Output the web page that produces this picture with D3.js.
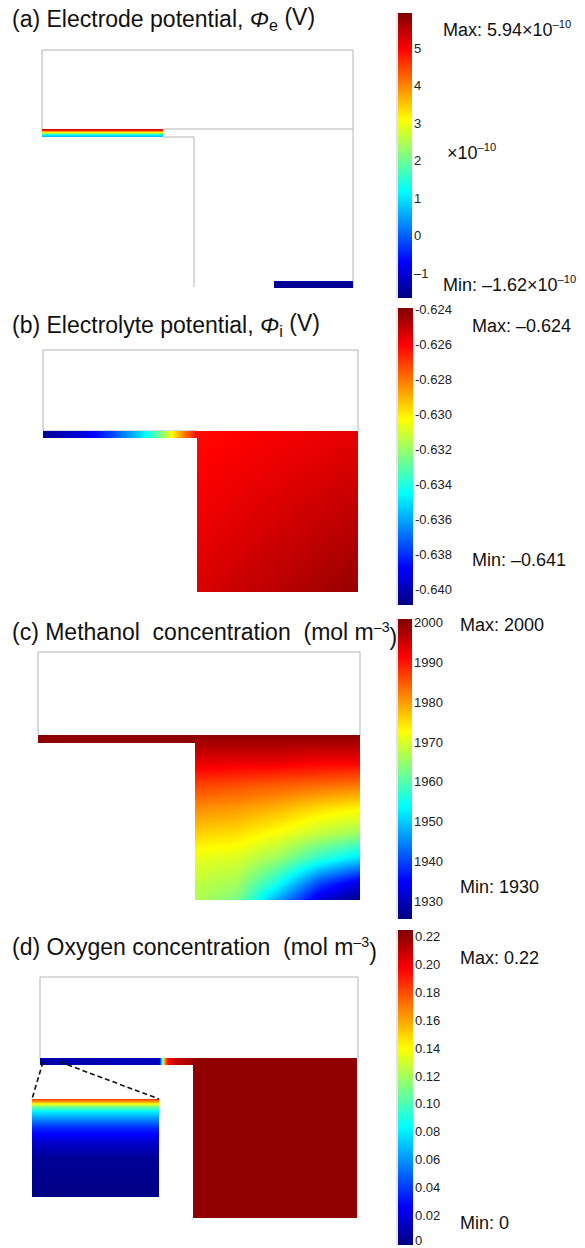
<!DOCTYPE html>
<html>
<head>
<meta charset="utf-8" />
<style>
  html, body {
     margin: 0;
     padding: 0;
     background: #fff;
  }
  svg {
    display: block;
    font-family: "Liberation Sans", Arial, sans-serif;
  }
  .title { font-size: 23px; white-space: pre; fill: #111; }
  .tick { font-size: 13px; fill: #222; }
  .ext { font-size: 18px; fill: #111; }
  .edge { stroke: #b4b4b4; stroke-width: 1; fill: none; }
  .zoomline { stroke: #111; stroke-width: 1.6; stroke-dasharray: 5,3; fill: none; }
  rect.px { shape-rendering: crispEdges; }
</style>
</head>
<body>
<div id="vis"></div>
<script src="https://cdnjs.cloudflare.com/ajax/libs/d3/7.8.5/d3.min.js"></script>
<script>
(function() {
  // ** DATA **

  // colour bar ticks and the values at the two ends of each bar
  var ticksA = [-1, 0, 1, 2, 3, 4, 5];
  var ticksB = [-0.640, -0.638, -0.636, -0.634, -0.632, -0.630, -0.628, -0.626, -0.624];
  var ticksC = [1930, 1940, 1950, 1960, 1970, 1980, 1990, 2000];
  var ticksD = [0, 0.02, 0.04, 0.06, 0.08, 0.10, 0.12, 0.14, 0.16, 0.18, 0.20, 0.22];
  var rangeA = [-1.667, 5.94];
  var rangeB = [-0.64086, -0.6239];
  var rangeC = [1925.5, 2001];
  var rangeD = [-0.0014, 0.225];

  // max / min annotations
  var maxLabels = ["5.94×10^–10", "–0.624", "2000", "0.22"];
  var minLabels = ["–1.62×10^–10", "–0.641", "1930", "0"];

  // (a) electrode potential (x1e-10 V): catalyst strip, through its depth
  var aStripDepth = [0, 0.2, 0.4, 0.55, 0.7, 0.85, 1];
  var aStripVals = [[5.5], [4.6], [3.4], [2.4], [1.4], [0.9], [0.6]];
  var aPlateVal = -1.5;

  // (b) electrolyte potential (V): along the strip, and block corners
  var bStripX = [0, 0.26, 0.45, 0.63, 0.76, 0.84, 0.91, 1.0];
  var bStripVals = [-0.6405, -0.6393, -0.6376, -0.6352, -0.6326, -0.6302, -0.6282, -0.6262];
  var bBlockX = [0, 1];
  var bBlockY = [0, 1];
  var bBlockVals = [[-0.6262, -0.6256], [-0.6254, -0.6243]];

  // (c) methanol concentration (mol m-3) in the block
  var cStripVal = 2000;
  var cBlockX = [0, 0.25, 0.5, 0.75, 1];
  var cBlockY = [0, 0.15, 0.3, 0.45, 0.6, 0.75, 0.9, 1];
  var cBlockVals = [
    [2000, 2000, 2000, 2000, 2000],
    [1994, 1994, 1994, 1993, 1993],
    [1987, 1986, 1985, 1984, 1983],
    [1981, 1980, 1978, 1975, 1973],
    [1976, 1975, 1972, 1968, 1965],
    [1971, 1970, 1965, 1957, 1951],
    [1968, 1966, 1955, 1940, 1932],
    [1967, 1963, 1947, 1932, 1926]
  ];

  // (d) oxygen concentration (mol m-3)
  var dStripX = [0, 0.78, 0.795, 0.81, 0.83, 0.87, 1];
  var dStripVals = [0.008, 0.012, 0.08, 0.15, 0.19, 0.208, 0.218];
  var dBlockVal = 0.221;
  var dInsetDepth = [0, 0.03, 0.05, 0.08, 0.13, 0.2, 0.3, 0.45, 0.6, 1];
  var dInsetVals = [[0.185], [0.16], [0.14], [0.11], [0.08], [0.06], [0.035], [0.015], [0.004], [0.0]];

  // ** SETUP **
  var W = 585, H = 1248;
  var svg = d3.select("#vis").append("svg").attr("width", W).attr("height", H);

  // jet-like rainbow, as on the colour bars
  var jet = d3.scaleLinear()
    .domain([0, 0.125, 0.375, 0.625, 0.875, 1])
    .range(["#00007f", "#0000ff", "#00ffff", "#ffff00", "#ff0000", "#7f0000"])
    .clamp(true);

  function colorFor(range) {
    var n = d3.scaleLinear().domain(range).range([0, 1]);
    return function(v) { return jet(n(v)); };
  }

  function locate(arr, u) {
    if (arr.length === 1) return {i: 0, j: 0, t: 0};
    var i = Math.max(0, Math.min(arr.length - 2, d3.bisectRight(arr, u) - 1));
    var t = (u - arr[i]) / (arr[i + 1] - arr[i]);
    return {i: i, j: i + 1, t: Math.max(0, Math.min(1, t))};
  }

  function sample(xs, ys, vals, u, v) {
    var c = locate(xs, u), r = locate(ys, v);
    var top = vals[r.i][c.i] + (vals[r.i][c.j] - vals[r.i][c.i]) * c.t;
    var bot = vals[r.j][c.i] + (vals[r.j][c.j] - vals[r.j][c.i]) * c.t;
    return top + (bot - top) * r.t;
  }

  // draws a field over a box, pixel cells of size `step`
  function drawField(g, box, xs, ys, vals, color, step) {
    var cells = [];
    for (var y = box.y0; y < box.y1; y += step) {
      for (var x = box.x0; x < box.x1; x += step) {
        var w = Math.min(step, box.x1 - x), h = Math.min(step, box.y1 - y);
        var u = (x + w / 2 - box.x0) / (box.x1 - box.x0);
        var v = (y + h / 2 - box.y0) / (box.y1 - box.y0);
        cells.push({x: x, y: y, w: w, h: h, v: sample(xs, ys, vals, u, v)});
      }
    }
    g.selectAll(null).data(cells).join("rect")
      .attr("class", "px")
      .attr("x", function(d) { return d.x; }).attr("y", function(d) { return d.y; })
      .attr("width", function(d) { return d.w; }).attr("height", function(d) { return d.h; })
      .attr("fill", function(d) { return color(d.v); });
  }

  function fillBox(g, box, value, color) {
    g.append("rect").attr("class", "px")
      .attr("x", box.x0).attr("y", box.y0)
      .attr("width", box.x1 - box.x0).attr("height", box.y1 - box.y0)
      .attr("fill", color(value));
  }

  // text with "^" meaning superscript
  function richText(sel, str) {
    var parts = str.split("^");
    sel.append("tspan").text(parts[0]);
    if (parts[1]) {
      sel.append("tspan").attr("font-size", "0.62em").attr("dy", "-0.55em").text(parts[1]);
    }
  }

  function colorBar(range, ticks, fmt, bar) {
    var color = colorFor(range);
    var y = d3.scaleLinear().domain(range).range([bar.y1, bar.y0]);
    var g = svg.append("g");
    g.append("rect").attr("x", bar.x0 - 2).attr("y", bar.y0).attr("width", 2)
      .attr("height", bar.y1 - bar.y0).attr("fill", "#e4e4e4");
    var rows = d3.range(bar.y0, bar.y1);
    g.selectAll(null).data(rows).join("rect")
      .attr("class", "px")
      .attr("x", bar.x0).attr("y", function(d) { return d; })
      .attr("width", bar.x1 - bar.x0).attr("height", 1)
      .attr("fill", function(d) { return color(y.invert(d + 0.5)); });
    g.selectAll(null).data(ticks).join("text")
      .attr("class", "tick")
      .attr("x", bar.x1 + 2)
      .attr("y", function(d) { return Math.min(y(d), H - 8); })
      .attr("dominant-baseline", "central")
      .text(fmt);
    return color;
  }

  function extremes(i, pos) {
    var t1 = svg.append("text").attr("class", "ext").attr("x", pos.x)
      .attr("y", pos.maxY).attr("dominant-baseline", "central");
    richText(t1, "Max: " + maxLabels[i]);
    var t2 = svg.append("text").attr("class", "ext").attr("x", pos.x)
      .attr("y", pos.minY).attr("dominant-baseline", "central");
    richText(t2, "Min: " + minLabels[i]);
  }

  function title(y, parts) {
    var t = svg.append("text").attr("class", "title").attr("x", 12).attr("y", y);
    parts.forEach(function(p) {
      var s = t.append("tspan").text(p.t);
      if (p.italic) s.attr("font-style", "italic");
      if (p.sub) s.attr("font-size", "0.7em").attr("dy", "0.25em");
      if (p.back) s.attr("dy", "-0.25em");
      if (p.sup) s.attr("font-size", "0.62em").attr("dy", "-0.55em");
      if (p.down) s.attr("dy", "0.55em");
    });
  }

  function edges(d) {
    svg.append("path").attr("class", "edge").attr("d", d);
  }

  // ** PANEL A **
  title(27, [{t: "(a) Electrode potential, "}, {t: "Φ", italic: true}, {t: "e", sub: true}, {t: " (V)", back: true}]);
  var colA = colorBar(rangeA, ticksA, function(d) { return d < 0 ? "–" + Math.abs(d) : d; },
    {x0: 398, x1: 412, y0: 13, y1: 298});
  edges("M42,50H353V288M42,50V129M163,129H353M163,137H194V287");
  var gA = svg.append("g");
  drawField(gA, {x0: 42, x1: 163, y0: 129, y1: 137}, [0], aStripDepth, aStripVals, colA, 1);
  fillBox(gA, {x0: 274, x1: 353, y0: 281, y1: 288}, aPlateVal, colA);
  extremes(0, {x: 443, maxY: 30, minY: 285});
  var tx = svg.append("text").attr("class", "ext").attr("x", 447).attr("y", 153)
    .attr("dominant-baseline", "central");
  richText(tx, "×10^–10");

  // ** PANEL B **
  title(333, [{t: "(b) Electrolyte potential, "}, {t: "Φ", italic: true}, {t: "i", sub: true}, {t: " (V)", back: true}]);
  var colB = colorBar(rangeB, ticksB, function(d) { return d.toFixed(3); },
    {x0: 398, x1: 413, y0: 308, y1: 605});
  edges("M43,350H358V431M43,350V431H197");
  var gB = svg.append("g");
  drawField(gB, {x0: 43, x1: 197, y0: 431, y1: 438}, bStripX, [0], [bStripVals], colB, 1);
  drawField(gB, {x0: 197, x1: 358, y0: 431, y1: 592}, bBlockX, bBlockY, bBlockVals, colB, 3);
  extremes(1, {x: 472, maxY: 326, minY: 560});

  // ** PANEL C **
  title(640, [{t: "(c) Methanol  concentration  (mol m"}, {t: "–3", sup: true}, {t: ")", down: true}]);
  var colC = colorBar(rangeC, ticksC, function(d) { return d; },
    {x0: 398, x1: 412, y0: 619, y1: 919});
  edges("M38,652H360V735M38,652V735");
  var gC = svg.append("g");
  fillBox(gC, {x0: 38, x1: 195, y0: 735, y1: 743}, cStripVal, colC);
  drawField(gC, {x0: 195, x1: 360, y0: 735, y1: 900}, cBlockX, cBlockY, cBlockVals, colC, 2);
  extremes(2, {x: 460, maxY: 625, minY: 887});

  // ** PANEL D **
  title(955, [{t: "(d) Oxygen concentration  (mol m"}, {t: "–3", sup: true}, {t: ")", down: true}]);
  var colD = colorBar(rangeD, ticksD, function(d) { return d === 0 ? "0" : d.toFixed(2); },
    {x0: 398, x1: 413, y0: 930, y1: 1245});
  edges("M40,977H358V1058M40,977V1058");
  var gD = svg.append("g");
  drawField(gD, {x0: 40, x1: 193, y0: 1058, y1: 1065}, dStripX, [0], [dStripVals], colD, 1);
  fillBox(gD, {x0: 193, x1: 357, y0: 1058, y1: 1218}, dBlockVal, colD);
  drawField(gD, {x0: 32, x1: 159, y0: 1099, y1: 1197}, [0], dInsetDepth, dInsetVals, colD, 1);
  svg.append("path").attr("class", "zoomline").attr("d", "M43,1062L32,1099M60,1062L159,1099");
  extremes(3, {x: 460, maxY: 958, minY: 1223});
})();
</script>
</body>
</html>
